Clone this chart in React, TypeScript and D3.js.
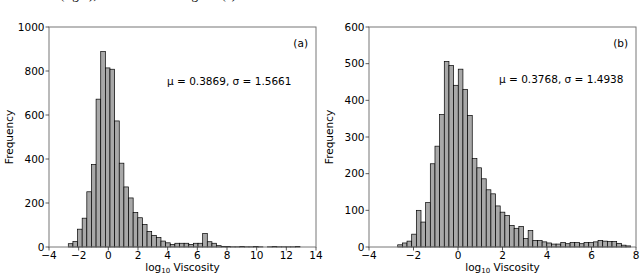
import React from "react";
import * as d3 from "d3";

// ---------- data ----------
const leftCounts = [
  15, 25, 81, 131, 251, 375, 672, 888, 814, 808,
  573, 381, 273, 223, 157, 133, 102, 71, 53, 43,
  27, 19, 11, 17, 17, 17, 12, 17, 17, 61,
  24, 17, 6, 3, 2, 1, 1, 2, 1, 1,
  2, 1, 0, 1, 2, 1, 1, 1, 1, 2,
];
const leftRange = [-2.7, 12.92];
const leftXTicks = [-4, -2, 0, 2, 4, 6, 8, 10, 12, 14];
const leftYTicks = [0, 200, 400, 600, 800, 1000];
const leftStats = "μ = 0.3869, σ = 1.5661";
const leftTag = "(a)";

const rightCounts = [
  6, 11, 16, 35, 100, 68, 121, 227, 275, 361,
  506, 495, 441, 485, 430, 359, 241, 216, 186, 156,
  145, 112, 95, 86, 59, 51, 56, 23, 45, 18,
  18, 14, 11, 8, 8, 12, 9, 12, 12, 9,
  12, 12, 14, 18, 16, 15, 15, 10, 5, 3,
];
const rightRange = [-2.71, 7.76];
const rightXTicks = [-4, -2, 0, 2, 4, 6, 8];
const rightYTicks = [0, 100, 200, 300, 400, 500, 600];
const rightStats = "μ = 0.3768, σ = 1.4938";
const rightTag = "(b)";

const xLabelMain = "log";
const xLabelSub = "10";
const xLabelRest = " Viscosity";
const yLabel = "Frequency";

const FONT = "DejaVu Sans, sans-serif";
const FS = 10.5;

const fmt = (v: number) => (v < 0 ? "\u2212" + Math.abs(v) : String(v));

type PanelProps = {
  ox: number;
  counts: number[];
  range: number[];
  xTicks: number[];
  yTicks: number[];
  stats: string;
  tag: string;
  statsX: number;
  statsY: number;
};

function Panel({ ox, counts, range, xTicks, yTicks, stats, tag, statsX, statsY }: PanelProps) {
  const left = ox + 49;
  const right = ox + 316;
  const top = 27;
  const bottom = 247;
  const x = d3.scaleLinear().domain([xTicks[0], xTicks[xTicks.length - 1]]).range([left, right]);
  const y = d3.scaleLinear().domain([yTicks[0], yTicks[yTicks.length - 1]]).range([bottom, top]);
  const w = (range[1] - range[0]) / counts.length;
  const bins = counts.map((c, i) => ({ x0: range[0] + i * w, x1: range[0] + (i + 1) * w, c }));
  return (
    <g>
      {bins.map((b, i) =>
        b.c > 0 ? (
          <rect
            key={i}
            x={x(b.x0)}
            y={y(b.c)}
            width={x(b.x1) - x(b.x0)}
            height={y(0) - y(b.c)}
            fill="#a8a8a8"
            stroke="#000"
            strokeWidth={0.7}
          />
        ) : null
      )}
      <rect x={left} y={top} width={right - left} height={bottom - top} fill="none" stroke="#777" strokeWidth={1} />
      {xTicks.map((t) => (
        <g key={"x" + t}>
          <line x1={x(t)} x2={x(t)} y1={bottom} y2={bottom + 3.5} stroke="#333" strokeWidth={0.8} />
          <text x={x(t)} y={259.3} textAnchor="middle" fontFamily={FONT} fontSize={FS} fill="#000">
            {fmt(t)}
          </text>
        </g>
      ))}
      {yTicks.map((t) => (
        <g key={"y" + t}>
          <line x1={left - 3.5} x2={left} y1={y(t)} y2={y(t)} stroke="#333" strokeWidth={0.8} />
          <text x={left - 4.5} y={y(t) + 3.8} textAnchor="end" fontFamily={FONT} fontSize={FS} fill="#000">
            {fmt(t)}
          </text>
        </g>
      ))}
      <text x={(left + right) / 2} y={271} textAnchor="middle" fontFamily={FONT} fontSize={FS} fill="#000">
        {xLabelMain}
        <tspan fontSize={7} dy={2}>{xLabelSub}</tspan>
        <tspan dy={-2}>{xLabelRest}</tspan>
      </text>
      <text
        transform={`translate(${ox + 12.6},${(top + bottom) / 2}) rotate(-90)`}
        textAnchor="middle"
        fontFamily={FONT}
        fontSize={FS}
        fill="#000"
      >
        {yLabel}
      </text>
      <text x={statsX} y={statsY} fontFamily={FONT} fontSize={FS} fill="#000">
        {stats}
      </text>
      <text x={right - 8} y={46.5} textAnchor="end" fontFamily={FONT} fontSize={FS} fill="#000">
        {tag}
      </text>
    </g>
  );
}

export default function App() {
  return (
    <svg width={640} height={274} style={{ position: "absolute", left: 0, top: 0, background: "#fff" }}>
      <rect x={0} y={0} width={640} height={274} fill="#fff" />
      <text x={60} y={-1} fontFamily="Liberation Serif, serif" fontSize={13} fill="#000">(right),</text>
      <text x={236} y={-1} textAnchor="end" fontFamily="Liberation Serif, serif" fontSize={13} fill="#000">histogram (a)</text>
      <Panel
        ox={0}
        counts={leftCounts}
        range={leftRange}
        xTicks={leftXTicks}
        yTicks={leftYTicks}
        stats={leftStats}
        tag={leftTag}
        statsX={167}
        statsY={84.5}
      />
      <Panel
        ox={320}
        counts={rightCounts}
        range={rightRange}
        xTicks={rightXTicks}
        yTicks={rightYTicks}
        stats={rightStats}
        tag={rightTag}
        statsX={499}
        statsY={83}
      />
    </svg>
  );
}
